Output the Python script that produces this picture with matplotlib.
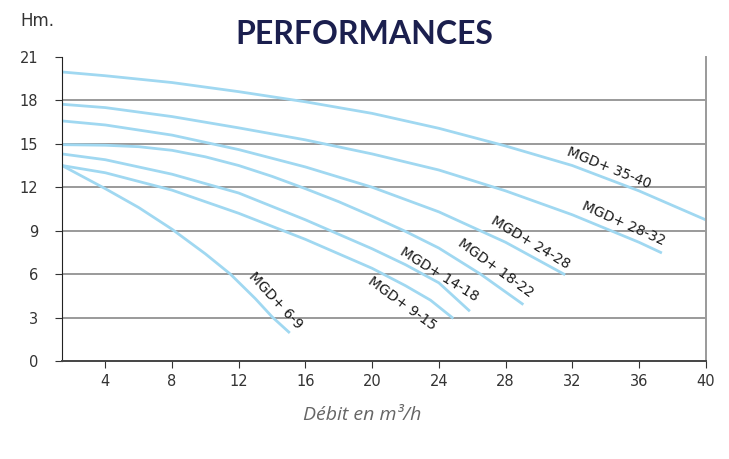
import matplotlib
matplotlib.use("Agg")
import matplotlib.pyplot as plt

# Pump curves (flow m3/h -> head m)
x_35_40 = [1.4, 4, 8, 12, 16, 20, 24, 28, 32, 36, 40]
y_35_40 = [19.96, 19.7, 19.23, 18.6, 17.9, 17.1, 16.07, 14.85, 13.5, 11.75, 9.75]

x_28_32 = [1.4, 4, 8, 12, 16, 20, 24, 28, 32, 36, 37.3]
y_28_32 = [17.73, 17.5, 16.88, 16.1, 15.27, 14.3, 13.19, 11.75, 10.1, 8.2, 7.5]

x_24_28 = [1.4, 4, 8, 12, 16, 20, 24, 28, 31.5]
y_24_28 = [16.58, 16.3, 15.6, 14.6, 13.4, 12.0, 10.3, 8.2, 6.0]

x_18_22 = [1.4, 4, 6, 8, 10, 12, 14, 16, 18, 20, 22, 24, 26.5, 29]
y_18_22 = [14.94, 14.9, 14.8, 14.55, 14.1, 13.5, 12.75, 11.9, 11.0, 10.0, 8.95, 7.8, 6.0, 3.95]

x_14_18 = [1.4, 4, 8, 12, 16, 20, 22, 24, 25.8]
y_14_18 = [14.3, 13.9, 12.9, 11.6, 9.75, 7.75, 6.65, 5.4, 3.5]

x_9_15 = [1.4, 4, 8, 12, 16, 20, 22, 23.5, 24.8]
y_9_15 = [13.5, 13.0, 11.8, 10.2, 8.4, 6.4, 5.2, 4.2, 3.0]

x_6_9 = [1.4, 4, 6, 8, 10, 11.5, 13, 14, 15.0]
y_6_9 = [13.5, 11.9, 10.6, 9.1, 7.4, 6.0, 4.3, 3.05, 2.0]

curves = [
    ("MGD+ 35-40", x_35_40, y_35_40),
    ("MGD+ 28-32", x_28_32, y_28_32),
    ("MGD+ 24-28", x_24_28, y_24_28),
    ("MGD+ 18-22", x_18_22, y_18_22),
    ("MGD+ 14-18", x_14_18, y_14_18),
    ("MGD+ 9-15", x_9_15, y_9_15),
    ("MGD+ 6-9", x_6_9, y_6_9),
]

# label anchor (x, y, angle)
label_pos = {
    "MGD+ 35-40": (34.2, 13.3, -22),
    "MGD+ 28-32": (35.1, 9.5, -24),
    "MGD+ 24-28": (29.5, 8.2, -31),
    "MGD+ 18-22": (27.4, 6.4, -36),
    "MGD+ 14-18": (24.0, 6.0, -32),
    "MGD+ 9-15": (21.8, 4.0, -36),
    "MGD+ 6-9": (14.2, 4.2, -47),
}

x_ticks = [4, 8, 12, 16, 20, 24, 28, 32, 36, 40]
y_ticks = [0, 3, 6, 9, 12, 15, 18, 21]

line_color = "#a0d8f1"

fig = plt.figure(figsize=(7.29, 4.59), dpi=100)
ax = fig.add_axes([0.085, 0.2135, 0.883, 0.6625])

for yt in y_ticks[1:-1]:
    ax.axhline(yt, color="#9a9a9a", lw=1.4, zorder=1)

for name, xs, ys in curves:
    ax.plot(xs, ys, color=line_color, lw=2, zorder=2, solid_joinstyle="round")
    lx, ly, ang = label_pos[name]
    ax.text(lx, ly, name, rotation=ang, ha="center", va="center",
            fontsize=10, color="#1a1a1a", rotation_mode="anchor", zorder=3)

ax.set_xlim(1.4, 40)
ax.set_ylim(0, 21)
ax.set_xticks(x_ticks)
ax.set_yticks(y_ticks)
ax.tick_params(axis="both", labelsize=10.5, labelcolor="#333333", length=5,
               color="#333333", pad=4)
ax.tick_params(axis="y", pad=12)

ax.spines["top"].set_visible(False)
ax.spines["right"].set_color("#9a9a9a")
ax.spines["right"].set_linewidth(1.4)
ax.spines["left"].set_color("#222222")
ax.spines["bottom"].set_color("#444444")
ax.spines["bottom"].set_linewidth(1.4)

fig.text(0.5, 0.925, "PERFORMANCES", ha="center", va="center",
         fontsize=23, fontweight="bold", color="#1b1f4e", family="Lato")
fig.text(0.028, 0.955, "Hm.", ha="left", va="center", fontsize=12,
         color="#333333")
fig.text(0.497, 0.095, "Débit en m³/h", ha="center", va="center",
         fontsize=14, style="italic", color="#666666", family="Open Sans")

fig.savefig("out.png", dpi=100)
